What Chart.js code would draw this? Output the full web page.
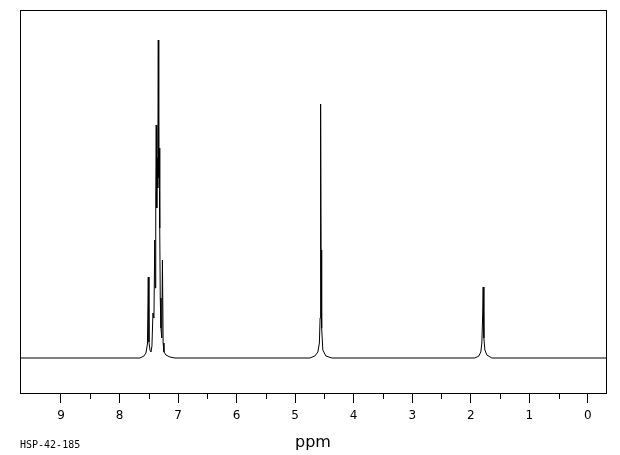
<!DOCTYPE html>
<html>
<head>
<meta charset="utf-8">
<script src="https://cdn.jsdelivr.net/npm/chart.js@4.4.1/dist/chart.umd.min.js"></script>
<style>
  html, body { margin: 0; padding: 0; background: #ffffff; }
  canvas { display: block; }
</style>
</head>
<body>
<canvas id="c" width="620" height="455"></canvas>
<script>
const shifts = [
  9.70,
  7.651, 7.583, 7.549, 7.523, 7.509, 7.497, 7.480, 7.463, 7.446, 7.429,
  7.412, 7.398, 7.390, 7.381, 7.373, 7.364, 7.356, 7.347, 7.338, 7.330,
  7.321, 7.313, 7.304, 7.292, 7.278, 7.267, 7.255, 7.241, 7.207, 7.139, 7.053,
  4.748, 4.663, 4.612, 4.586, 4.574, 4.565, 4.557, 4.547, 4.527, 4.475, 4.372,
  1.930, 1.862, 1.828, 1.811, 1.799, 1.788, 1.776, 1.759, 1.725, 1.640,
  -0.31
];
// Signal intensity (arbitrary units, baseline = 0) of each sampled point
const intensities = [
  0,
  0, 2, 5, 14, 81, 16, 8, 6, 12, 45,
  40, 118, 70, 160, 233, 150, 200, 170, 318, 180,
  210, 130, 60, 30, 20, 98, 15, 6, 3, 1, 0,
  0, 2, 6, 15, 40, 254, 108, 30, 8, 2, 0,
  0, 2, 6, 15, 38, 71, 20, 8, 3, 0,
  0
];
// Axis ticks
const majorTicks = [0, 1, 2, 3, 4, 5, 6, 7, 8, 9];
const minorTicks = [0.5, 1.5, 2.5, 3.5, 4.5, 5.5, 6.5, 7.5, 8.5];
const xTitle = 'ppm';
const sampleId = 'HSP-42-185';

const points = shifts.map((s, i) => ({ x: s, y: intensities[i] }));

const framePlugin = {
  id: 'frame',
  beforeDraw(chart) {
    const ctx = chart.ctx;
    ctx.save();
    ctx.fillStyle = '#ffffff';
    ctx.fillRect(0, 0, chart.width, chart.height);
    ctx.restore();
  },
  afterDraw(chart) {
    const ctx = chart.ctx;
    const a = chart.chartArea;
    const xs = chart.scales.x;
    ctx.save();
    ctx.strokeStyle = '#000000';
    ctx.lineWidth = 1;
    ctx.strokeRect(Math.round(a.left) + 0.5, Math.round(a.top) + 0.5,
                   Math.round(a.right - a.left), Math.round(a.bottom - a.top));
    // minor ticks
    ctx.beginPath();
    minorTicks.forEach(v => {
      const px = Math.round(xs.getPixelForValue(v)) + 0.5;
      ctx.moveTo(px, Math.round(a.bottom));
      ctx.lineTo(px, Math.round(a.bottom) + 6);
    });
    ctx.stroke();
    // sample id
    ctx.fillStyle = '#000000';
    ctx.font = '10px "DejaVu Sans Mono"';
    ctx.textBaseline = 'middle';
    ctx.textAlign = 'left';
    ctx.fillText(sampleId, a.left, 445);
    ctx.restore();
  }
};

new Chart(document.getElementById('c'), {
  type: 'line',
  data: {
    datasets: [{
      data: points,
      borderColor: '#000000',
      borderWidth: 1,
      pointRadius: 0,
      tension: 0,
      fill: false
    }]
  },
  options: {
    responsive: false,
    animation: false,
    events: [],
    layout: { padding: { left: 20, right: 14, top: 10, bottom: 0 } },
    plugins: { legend: { display: false }, tooltip: { enabled: false }, title: { display: false } },
    scales: {
      x: {
        type: 'linear',
        reverse: true,
        min: -0.31,
        max: 9.70,
        afterBuildTicks: (scale) => { scale.ticks = majorTicks.map(v => ({ value: v })); },
        afterFit: (scale) => { scale.height = 62; },
        grid: { display: true, drawOnChartArea: false, drawTicks: true, tickLength: 10, color: '#000000', lineWidth: 1 },
        border: { display: true, color: '#000000', width: 1 },
        ticks: {
          color: '#000000',
          font: { family: 'DejaVu Sans', size: 12 },
          padding: 6,
          maxRotation: 0,
          autoSkip: false,
          callback: (v) => String(v)
        },
        title: {
          display: true,
          text: xTitle,
          color: '#000000',
          font: { family: 'DejaVu Sans', size: 16 },
          padding: { top: 3, bottom: 3 }
        }
      },
      y: {
        type: 'linear',
        display: false,
        min: -35,
        max: 348
      }
    }
  },
  plugins: [framePlugin]
});
</script>
</body>
</html>
